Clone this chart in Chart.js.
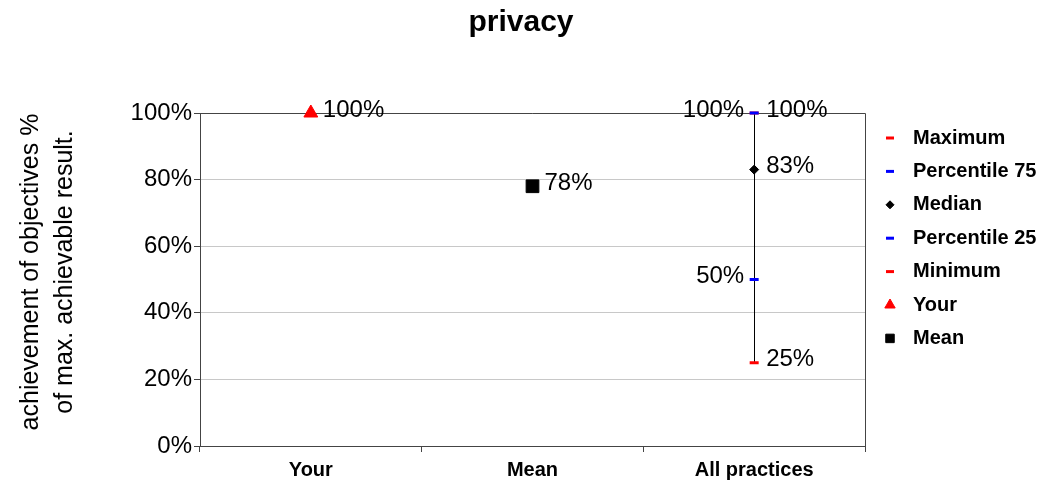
<!DOCTYPE html>
<html><head><meta charset="utf-8">
<script src="https://cdn.jsdelivr.net/npm/chart.js@4/dist/chart.umd.min.js"></script>
<style>html,body{margin:0;padding:0;background:#fff;overflow:hidden}</style>
</head><body><canvas id="c" width="1049" height="485"></canvas>
<script>
const chartTitle = 'privacy';
const yTitleLines = ['achievement of objectives %', 'of max. achievable result.'];
const categories = ['Your', 'Mean', 'All practices'];
const yTickValues = [0, 20, 40, 60, 80, 100];
const seriesNames = ['Maximum', 'Percentile 75', 'Median', 'Percentile 25', 'Minimum', 'Your', 'Mean'];
const maximum = [null, null, 100];
const percentile75 = [null, null, 100];
const median = [null, null, 83];
const percentile25 = [null, null, 50];
const minimum = [null, null, 25];
const yourValues = [100, null, null];
const meanValues = [null, 78, null];

const FAM = '"Liberation Sans", Arial, sans-serif';
const RED = '#ff0000', BLUE = '#0000ff', BLACK = '#000000';

function ds(label, data, color, style, radius, bw, side, order, legendRadius) {
  return { label, data, showLine: false, clip: false, pointStyle: style, pointRadius: radius, pointHoverRadius: radius,
    pointBackgroundColor: color, pointBorderColor: color, pointBorderWidth: bw, borderColor: color,
    backgroundColor: color, order, labelSide: side, legendRadius };
}
const datasets = [
  ds(seriesNames[0], maximum, RED, 'line', 4.5, 3, 'left', 2, 4),
  ds(seriesNames[1], percentile75, BLUE, 'line', 4.5, 3, 'right', 1, 4),
  ds(seriesNames[2], median, BLACK, 'rectRot', 4.5, 1, 'right', 0, 4),
  ds(seriesNames[3], percentile25, BLUE, 'line', 4.5, 3, 'left', 0, 4),
  ds(seriesNames[4], minimum, RED, 'line', 4.5, 3, 'right', 0, 4),
  ds(seriesNames[5], yourValues, RED, 'triangle', 8, 1, 'right', 0, 6),
  ds(seriesNames[6], meanValues, BLACK, 'rect', 9, 1, 'right', 0, 6)
];

const decor = {
  id: 'decor',
  beforeDatasetsDraw(chart) {
    const { ctx, chartArea: a, scales: { x, y } } = chart;
    ctx.save();
    ctx.strokeStyle = '#444';
    ctx.lineWidth = 1;
    ctx.beginPath();
    ctx.moveTo(a.left, Math.round(a.top) + 0.5);
    ctx.lineTo(Math.round(a.right) + 0.5, Math.round(a.top) + 0.5);
    ctx.lineTo(Math.round(a.right) + 0.5, a.bottom);
    ctx.stroke();
    // range line for all practices
    const i = 2;
    const px = Math.round(x.getPixelForValue(i)) + 0.5;
    ctx.strokeStyle = '#000';
    ctx.beginPath();
    ctx.moveTo(px, y.getPixelForValue(minimum[i]));
    ctx.lineTo(px, y.getPixelForValue(maximum[i]));
    ctx.stroke();
    ctx.restore();
  },
  afterDatasetsDraw(chart) {
    const { ctx, scales: { x, y } } = chart;
    ctx.save();
    ctx.font = '24px ' + FAM;
    ctx.fillStyle = '#000';
    ctx.textBaseline = 'middle';
    chart.data.datasets.forEach(d => {
      d.data.forEach((v, i) => {
        if (v === null) return;
        const px = x.getPixelForValue(i), py = y.getPixelForValue(v) - 3;
        const txt = v + '%';
        if (d.labelSide === 'left') { ctx.textAlign = 'right'; ctx.fillText(txt, px - 10, py); }
        else { ctx.textAlign = 'left'; ctx.fillText(txt, px + 12, py); }
      });
    });
    ctx.restore();
  },
  afterDraw(chart) {
    const { ctx } = chart;
    ctx.save();
    ctx.fillStyle = '#000';
    // title
    ctx.font = 'bold 30px ' + FAM;
    ctx.textAlign = 'center';
    ctx.textBaseline = 'middle';
    ctx.fillText(chartTitle, 521, 23);
    // y title
    ctx.font = '25px ' + FAM;
    ctx.textBaseline = 'alphabetic';
    const xs = [38, 72];
    yTitleLines.forEach((t, k) => {
      ctx.save();
      ctx.translate(xs[k], 272);
      ctx.rotate(-Math.PI / 2);
      ctx.fillText(t, 0, 0);
      ctx.restore();
    });
    // legend
    ctx.font = 'bold 20px ' + FAM;
    ctx.textAlign = 'left';
    ctx.textBaseline = 'middle';
    chart.data.datasets.forEach((d, k) => {
      const ly = 138 + k * 33.4;
      ctx.save();
      ctx.fillStyle = d.pointBackgroundColor;
      ctx.strokeStyle = d.pointBorderColor;
      ctx.lineWidth = d.pointBorderWidth;
      Chart.helpers.drawPoint(ctx, { pointStyle: d.pointStyle, radius: d.legendRadius, borderWidth: d.pointBorderWidth, rotation: 0 }, 890, ly);
      ctx.restore();
      ctx.fillText(d.label, 913, ly);
    });
    ctx.restore();
  }
};

new Chart(document.getElementById('c'), {
  type: 'line',
  data: { labels: categories, datasets },
  plugins: [decor],
  options: {
    responsive: false,
    animation: false,
    layout: { padding: { top: 113, right: 184, bottom: 0, left: 0 } },
    plugins: { legend: { display: false }, title: { display: false }, tooltip: { enabled: false } },
    scales: {
      x: {
        offset: true,
        grid: { offset: true, drawOnChartArea: false, drawTicks: true, tickLength: 6, tickColor: '#444' },
        border: { color: '#444', width: 1 },
        ticks: { font: { family: FAM, size: 20, weight: 'bold' }, color: '#000', padding: 6, maxRotation: 0 },
        afterFit(s) { s.height = 39; }
      },
      y: {
        min: 0, max: 100,
        afterBuildTicks(s) { s.ticks = yTickValues.map(v => ({ value: v })); },
        ticks: { callback: v => v + '%', font: { family: FAM, size: 24 }, color: '#000', padding: 2 },
        grid: { color: '#c8c8c8', tickColor: '#444', tickLength: 6 },
        border: { color: '#444', width: 1 },
        afterFit(s) { s.width = 200; }
      }
    }
  }
});
</script>
</body></html>
